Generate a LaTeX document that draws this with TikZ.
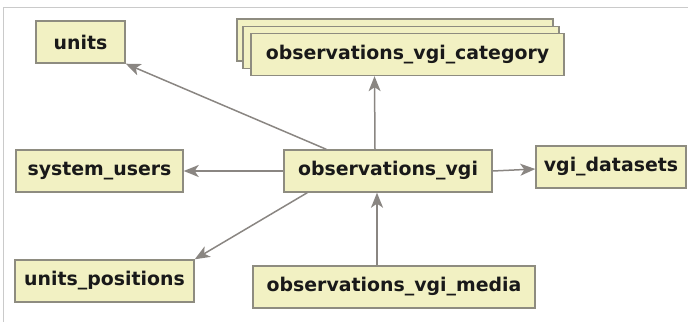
\documentclass[tikz,border=0pt]{standalone}
\usepackage{fontspec}
\setmainfont{DejaVu Sans}
\usepackage{tikz}
\usetikzlibrary{arrows.meta}
\definecolor{boxfill}{HTML}{F2F1C3}
\definecolor{boxline}{HTML}{8E8C80}
\definecolor{arrline}{HTML}{8A8682}
\definecolor{frameline}{HTML}{CACACA}
\tikzstyle{table}=[draw=boxline, fill=boxfill, line width=1.4pt, inner sep=0pt, minimum height=42pt, text=black!90, font=\fontsize{18.9}{22}\selectfont\bfseries]
\tikzstyle{link}=[draw=arrline, line width=1.5pt, -{Stealth[length=15pt, width=12pt, inset=4pt]}]

\begin{document}
\begin{tikzpicture}[x=1pt, y=-1pt]
        \useasboundingbox (0, 0) rectangle (688, 322);
        \draw[frameline, line width=1pt] (688, 7) -- (3, 7) -- (3, 322);
        \node[table, minimum width=89pt]  (T1) at (80.5, 42) {units};
        \node[table, minimum width=316pt] (T2b) at (395, 40) {};
        \node[table, minimum width=316pt] (T2a) at (401, 47.5) {};
        \node[table, minimum width=313pt] (T2) at (407.5, 54.5) {observations\_vgi\_category};
        \node[table, minimum width=208pt] (T0) at (388, 171) {observations\_vgi};
        \node[table, minimum width=167pt] (T3) at (99.5, 171) {system\_users};
        \node[table, minimum width=150pt] (T5) at (611, 167) {vgi\_datasets};
        \node[table, minimum width=179pt] (T4) at (104.5, 281) {units\_positions};
        \node[table, minimum width=282pt] (T6) at (394, 287) {observations\_vgi\_media};
        \draw[link] ([xshift=43pt]T0.north west) -- (T1.south east);
        \draw[link] ([xshift=-13pt]T0.north) -- ([xshift=-33pt]T2.south);
        \draw[link] (T0.west) -- (T3.east);
        \draw[link] ([xshift=24pt]T0.south west) -- (T4.north east);
        \draw[link] (T0.east) -- ([yshift=-2pt]T5.west);
        \draw[link] ([xshift=-17pt]T6.north) -- ([xshift=-11pt]T0.south);
    \end{tikzpicture}
\end{document}
